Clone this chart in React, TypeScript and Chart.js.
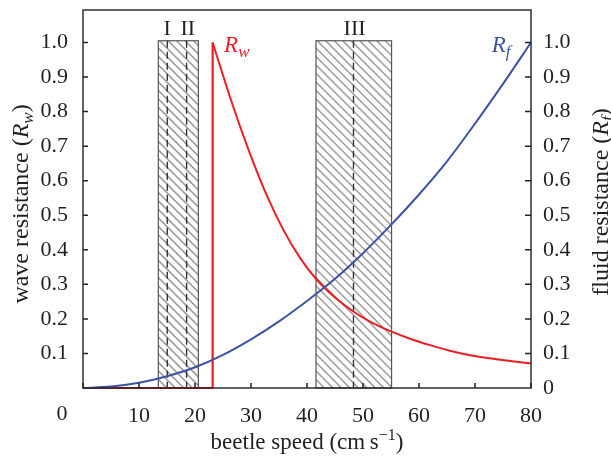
import React, { useEffect, useRef } from 'react';
import { Chart, registerables } from 'chart.js';

Chart.register(...registerables);

// ---- data ----
const rfSpeed = [0, 5, 10, 15, 20, 25, 30, 35, 40, 45, 50, 55, 60, 65, 70, 75, 80];
const rfValues = [0, 0.004, 0.015, 0.034, 0.06, 0.096, 0.141, 0.193, 0.252, 0.316, 0.39, 0.472, 0.56, 0.656, 0.765, 0.88, 1.0];

const rwStepSpeed = [0, 23.15, 23.15];
const rwStepValues = [0, 0, 1.0];

const rwSpeed = [23.15, 26.5, 29.8, 32.8, 35.8, 38.7, 41.55, 45, 48.4, 51.5, 55.1, 58.5, 62, 65.5, 69.1, 74.5, 80];
const rwValues = [1.0, 0.83, 0.679, 0.558, 0.457, 0.378, 0.317, 0.262, 0.22, 0.19, 0.163, 0.142, 0.124, 0.108, 0.095, 0.082, 0.071];

const regionStart = [13.45, 41.6];
const regionEnd = [20.6, 55.1];
const regionTop = 1.005;
const dividerSpeeds = [15.05, 18.5, 48.3];
const regionLabels = ['I', 'II', 'III'];
const regionLabelSpeeds = [15.05, 18.7, 48.5];
const regionLabelLevel = 1.022;

const xTickValues = [0, 10, 20, 30, 40, 50, 60, 70, 80];
const yTickValues = [0.1, 0.2, 0.3, 0.4, 0.5, 0.6, 0.7, 0.8, 0.9, 1.0];

const X_MIN = 0;
const X_MAX = 80;
const Y_MIN = 0;
const Y_MAX = 1.094;

const RED = '#ee1d23';
const BLUE = '#3a53a4';
const TEXT = '#231f20';
const SERIF = "'Liberation Serif', 'Times New Roman', serif";

type Part = { t: string; size: number; italic?: boolean; dy?: number; color?: string };

function fontOf(p: Part) {
  return `${p.italic ? 'italic ' : ''}${p.size}px ${SERIF}`;
}

function drawParts(ctx: CanvasRenderingContext2D, parts: Part[], x: number, y: number, align: 'center' | 'left') {
  let total = 0;
  const widths = parts.map((p) => {
    ctx.font = fontOf(p);
    const w = ctx.measureText(p.t).width;
    total += w;
    return w;
  });
  let cx = align === 'center' ? x - total / 2 : x;
  ctx.textAlign = 'left';
  ctx.textBaseline = 'alphabetic';
  parts.forEach((p, i) => {
    ctx.font = fontOf(p);
    ctx.fillStyle = p.color || TEXT;
    ctx.fillText(p.t, cx, y + (p.dy || 0));
    cx += widths[i];
  });
}

const overlayPlugin = {
  id: 'overlay',
  beforeDatasetsDraw(chart: any) {
    const { ctx, chartArea } = chart;
    const xs = chart.scales.x;
    const ys = chart.scales.y;
    const bottom = chartArea.bottom;
    ctx.save();
    for (let i = 0; i < regionStart.length; i++) {
      const x0 = xs.getPixelForValue(regionStart[i]);
      const x1 = xs.getPixelForValue(regionEnd[i]);
      const yt = ys.getPixelForValue(regionTop);
      const h = bottom - yt;
      ctx.save();
      ctx.beginPath();
      ctx.rect(x0, yt, x1 - x0, h);
      ctx.clip();
      ctx.fillStyle = '#ffffff';
      ctx.fillRect(x0, yt, x1 - x0, h);
      ctx.strokeStyle = '#9a9a9a';
      ctx.lineWidth = 1.5;
      for (let s = x0 - h; s < x1 + 10; s += 8.5) {
        ctx.beginPath();
        ctx.moveTo(s, yt);
        ctx.lineTo(s + h, bottom);
        ctx.stroke();
      }
      ctx.restore();
      ctx.strokeStyle = '#555555';
      ctx.lineWidth = 1.2;
      ctx.strokeRect(x0, yt, x1 - x0, h);
    }
    ctx.setLineDash([7, 4]);
    ctx.strokeStyle = '#333333';
    ctx.lineWidth = 1.4;
    const ytop = ys.getPixelForValue(regionTop);
    dividerSpeeds.forEach((v) => {
      const px = xs.getPixelForValue(v);
      ctx.beginPath();
      ctx.moveTo(px, ytop);
      ctx.lineTo(px, bottom);
      ctx.stroke();
    });
    ctx.restore();
  },
  afterDatasetsDraw(chart: any) {
    const { ctx, chartArea } = chart;
    const { left, right, top, bottom } = chartArea;
    const xs = chart.scales.x;
    const ys = chart.scales.y;
    ctx.save();
    // frame
    ctx.strokeStyle = '#222222';
    ctx.lineWidth = 1.4;
    ctx.strokeRect(left, top, right - left, bottom - top);
    // inward ticks
    ctx.lineWidth = 1.5;
    xTickValues.forEach((v) => {
      const px = xs.getPixelForValue(v);
      ctx.beginPath();
      ctx.moveTo(px, bottom);
      ctx.lineTo(px, bottom - 5);
      ctx.stroke();
    });
    yTickValues.forEach((v) => {
      const py = ys.getPixelForValue(v);
      ctx.beginPath();
      ctx.moveTo(left, py);
      ctx.lineTo(left + 5, py);
      ctx.moveTo(right, py);
      ctx.lineTo(right - 6, py);
      ctx.stroke();
    });
    // the "0" x label, set off to the left of the corner
    ctx.font = `22px ${SERIF}`;
    ctx.fillStyle = TEXT;
    ctx.textAlign = 'center';
    ctx.textBaseline = 'middle';
    ctx.fillText('0', xs.getPixelForValue(0) - 21, 414);

    // region labels
    ctx.font = `22px ${SERIF}`;
    ctx.textBaseline = 'alphabetic';
    regionLabels.forEach((t, i) => {
      ctx.fillText(t, xs.getPixelForValue(regionLabelSpeeds[i]), ys.getPixelForValue(regionLabelLevel));
    });

    // curve labels
    drawParts(
      ctx,
      [
        { t: 'R', size: 23, italic: true, color: RED },
        { t: 'w', size: 17, italic: true, dy: 5, color: RED },
      ],
      xs.getPixelForValue(25.2),
      ys.getPixelForValue(0.972),
      'left'
    );
    drawParts(
      ctx,
      [
        { t: 'R', size: 23, italic: true, color: BLUE },
        { t: 'f', size: 17, italic: true, dy: 5, color: BLUE },
      ],
      xs.getPixelForValue(73.0),
      ys.getPixelForValue(0.972),
      'left'
    );

    // x title
    drawParts(
      ctx,
      [
        { t: 'beetle speed (cm\u2009s', size: 23 },
        { t: '\u22121', size: 16, dy: -9 },
        { t: ')', size: 23 },
      ],
      (left + right) / 2,
      449,
      'center'
    );

    // left title
    ctx.save();
    ctx.translate(28, 204);
    ctx.rotate(-Math.PI / 2);
    drawParts(
      ctx,
      [
        { t: 'wave resistance (', size: 24 },
        { t: 'R', size: 24, italic: true },
        { t: 'w', size: 17, italic: true, dy: 5 },
        { t: ')', size: 24 },
      ],
      0,
      0,
      'center'
    );
    ctx.restore();

    // right title
    ctx.save();
    ctx.translate(608, 202);
    ctx.rotate(-Math.PI / 2);
    drawParts(
      ctx,
      [
        { t: 'fluid resistance (', size: 24 },
        { t: 'R', size: 24, italic: true },
        { t: 'f', size: 17, italic: true, dy: 5 },
        { t: ')', size: 24 },
      ],
      0,
      0,
      'center'
    );
    ctx.restore();
    ctx.restore();
  },
};

export default function App() {
  const canvasRef = useRef<HTMLCanvasElement | null>(null);

  useEffect(() => {
    if (!canvasRef.current) return;
    const tickFont = { family: SERIF, size: 22 };
    const chart = new Chart(canvasRef.current, {
      type: 'line',
      data: {
        datasets: [
          {
            label: 'Rf',
            data: rfSpeed.map((x, i) => ({ x, y: rfValues[i] })),
            borderColor: BLUE,
            borderWidth: 2,
            pointRadius: 0,
            cubicInterpolationMode: 'monotone',
            yAxisID: 'y2',
            clip: 4,
          },
          {
            label: 'Rw step',
            data: rwStepSpeed.map((x, i) => ({ x, y: rwStepValues[i] })),
            borderColor: RED,
            borderWidth: 2.2,
            pointRadius: 0,
            tension: 0,
            yAxisID: 'y',
            clip: 4,
          },
          {
            label: 'Rw',
            data: rwSpeed.map((x, i) => ({ x, y: rwValues[i] })),
            borderColor: RED,
            borderWidth: 2,
            pointRadius: 0,
            cubicInterpolationMode: 'monotone',
            yAxisID: 'y',
            clip: 4,
          },
        ],
      } as any,
      options: {
        animation: false,
        responsive: true,
        maintainAspectRatio: false,
        layout: { padding: { top: 10, left: 0, right: 0, bottom: 0 } },
        plugins: {
          legend: { display: false },
          tooltip: { enabled: false },
          title: { display: false },
        },
        scales: {
          x: {
            type: 'linear',
            position: 'bottom',
            min: X_MIN,
            max: X_MAX,
            grid: { display: false, drawTicks: false },
            border: { display: false },
            ticks: {
              stepSize: 10,
              font: tickFont,
              color: TEXT,
              padding: 15,
              maxRotation: 0,
              callback: (v: any) => (Number(v) === 0 ? '' : String(v)),
            },
            afterFit: (s: any) => {
              s.height = 69;
              s.paddingLeft = 0;
              s.paddingRight = 0;
            },
          },
          y: {
            type: 'linear',
            position: 'left',
            min: Y_MIN,
            max: Y_MAX,
            grid: { display: false, drawTicks: false },
            border: { display: false },
            ticks: {
              stepSize: 0.1,
              includeBounds: false,
              font: tickFont,
              color: TEXT,
              padding: 15,
              callback: (v: any) => {
                const n = Number(v);
                if (n < 0.05 || n > 1.001) return '';
                return n.toFixed(1);
              },
            },
            afterFit: (s: any) => {
              s.width = 83;
              s.paddingTop = 0;
              s.paddingBottom = 0;
            },
          },
          y2: {
            type: 'linear',
            position: 'right',
            min: Y_MIN,
            max: Y_MAX,
            grid: { display: false, drawTicks: false },
            border: { display: false },
            ticks: {
              stepSize: 0.1,
              includeBounds: false,
              font: tickFont,
              color: TEXT,
              padding: 12,
              callback: (v: any) => {
                const n = Number(v);
                if (n > 1.001) return '';
                if (n < 0.05) return '0';
                return n.toFixed(1);
              },
            },
            afterFit: (s: any) => {
              s.width = 80;
              s.paddingTop = 0;
              s.paddingBottom = 0;
            },
          },
        },
      } as any,
      plugins: [overlayPlugin],
    });
    return () => chart.destroy();
  }, []);

  return (
    <div style={{ position: 'absolute', left: 0, top: 0, width: 611, height: 457, background: '#ffffff' }}>
      <canvas ref={canvasRef} />
    </div>
  );
}
